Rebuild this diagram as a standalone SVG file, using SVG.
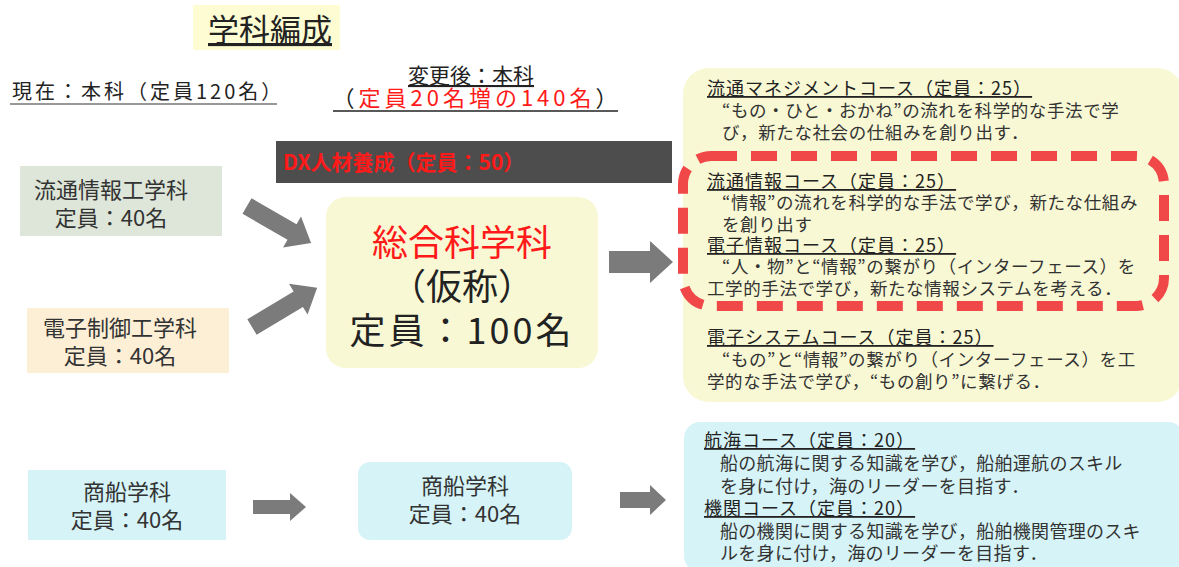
<svg xmlns="http://www.w3.org/2000/svg" width="1179" height="567" viewBox="0 0 1179 567">
<style>
text{font-family:"Noto Sans CJK JP","Noto Sans",sans-serif;fill:#222}
.h{font-size:18px;letter-spacing:1px;text-decoration:underline}
.b{font-size:17.5px;letter-spacing:0.6px;fill:#333}
.c{font-size:18px;letter-spacing:0.3px;fill:#333}
.lb{font-size:22px;text-anchor:middle;fill:#333}
.red{fill:#ff1a1a}
.arr{fill:#7b7b7b}
</style>
<rect width="1179" height="567" fill="#ffffff"/>
<g id="title">
<rect x="193" y="5" width="147" height="45" fill="#fdfcd2"/>
<text x="270" y="41" font-size="31" text-anchor="middle" text-decoration="underline">学科編成</text>
</g>
<g id="current">
<text x="12" y="99" font-size="20" letter-spacing="3" fill="#333">現在：本科（定員120名）</text>
<line x1="10" y1="104" x2="277" y2="104" stroke="#333" stroke-width="1.2"/>
</g>
<g id="after">
<text x="471" y="83" font-size="21" text-anchor="middle" text-decoration="underline">変更後：本科</text>
<text x="477" y="106" font-size="22" letter-spacing="4" text-anchor="middle">（<tspan class="red">定員20名増の140名</tspan>）</text>
<line x1="333" y1="111" x2="618" y2="111" stroke="#222" stroke-width="1.5"/>
</g>
<g id="dx">
<rect x="276" y="141" width="396" height="42" fill="#4d4d4d"/>
<text x="283" y="170" font-size="21" font-weight="bold" class="red">DX人材養成（定員：50）</text>
</g>
<g id="ryutsu">
<rect x="20" y="166" width="202" height="70" fill="#dde6d8"/>
<text x="111" y="198" class="lb">流通情報工学科</text>
<text x="111" y="226" class="lb">定員：40名</text>
</g>
<g id="denshi">
<rect x="27" y="308" width="202" height="65" fill="#fcefd6"/>
<text x="120" y="336" class="lb">電子制御工学科</text>
<text x="120" y="364" class="lb">定員：40名</text>
</g>
<g id="sogo">
<rect x="326" y="197" width="272" height="171" rx="20" fill="#f8f8d4"/>
<text x="462" y="256" font-size="36" text-anchor="middle" class="red">総合科学科</text>
<text x="462" y="300" font-size="36" text-anchor="middle">（仮称）</text>
<text x="462" y="344" font-size="36" letter-spacing="3" text-anchor="middle">定員：100名</text>
</g>
<g id="courses">
<rect x="683" y="68" width="500" height="334" rx="26" fill="#f8f8d4"/>
<rect x="683" y="156" width="481" height="150" rx="28" fill="none" stroke="#f04848" stroke-width="10" stroke-dasharray="26 14"/>
<text x="707" y="95" class="h">流通マネジメントコース（定員：25）</text>
<text x="722" y="117" class="b">“もの・ひと・おかね”の流れを科学的な手法で学</text>
<text x="722" y="139" class="b">び，新たな社会の仕組みを創り出す．</text>
<text x="707" y="188" class="h">流通情報コース（定員：25）</text>
<text x="722" y="209" class="b">“情報”の流れを科学的な手法で学び，新たな仕組み</text>
<text x="722" y="231" class="b">を創り出す</text>
<text x="707" y="252" class="h">電子情報コース（定員：25）</text>
<text x="722" y="273" class="b">“人・物”と“情報”の繋がり（インターフェース）を</text>
<text x="707" y="295" class="b">工学的手法で学び，新たな情報システムを考える．</text>
<text x="707" y="344" class="h">電子システムコース（定員：25）</text>
<text x="722" y="366" class="b">“もの”と“情報”の繋がり（インターフェース）を工</text>
<text x="707" y="388" class="b">学的な手法で学び，“もの創り”に繋げる．</text>
</g>
<g id="shosen-old">
<rect x="28" y="470" width="198" height="70" fill="#d6f3f7"/>
<text x="127" y="500" class="lb">商船学科</text>
<text x="127" y="528" class="lb">定員：40名</text>
</g>
<g id="shosen-new">
<rect x="358" y="462" width="214" height="78" rx="12" fill="#d6f3f7"/>
<text x="465" y="494" class="lb">商船学科</text>
<text x="465" y="522" class="lb">定員：40名</text>
</g>
<g id="shosen-courses">
<rect x="684" y="422" width="500" height="150" rx="16" fill="#d6f3f7"/>
<text x="704" y="447" class="h">航海コース（定員：20）</text>
<text x="720" y="470" class="c">船の航海に関する知識を学び，船舶運航のスキル</text>
<text x="720" y="493" class="c">を身に付け，海のリーダーを目指す．</text>
<text x="704" y="515" class="h">機関コース（定員：20）</text>
<text x="720" y="538" class="c">船の機関に関する知識を学び，船舶機関管理のスキ</text>
<text x="720" y="560" class="c">ルを身に付け，海のリーダーを目指す．</text>
</g>
<g id="connectors">
<path class="arr" transform="translate(247,206) rotate(30)" d="M0,-9 H52 V-18 L74,0 L52,18 V9 H0 Z"/>
<path class="arr" transform="translate(252,327) rotate(-31)" d="M0,-9 H54 V-18 L76,0 L54,18 V9 H0 Z"/>
<path class="arr" d="M609,251 H650 V241 L673,262 L650,283 V273 H609 Z"/>
<path class="arr" d="M253,500 H290 V493 L306,507 L290,521 V514 H253 Z"/>
<path class="arr" d="M620,492 H650 V485 L666,500 L650,515 V508 H620 Z"/>
</g>
</svg>
